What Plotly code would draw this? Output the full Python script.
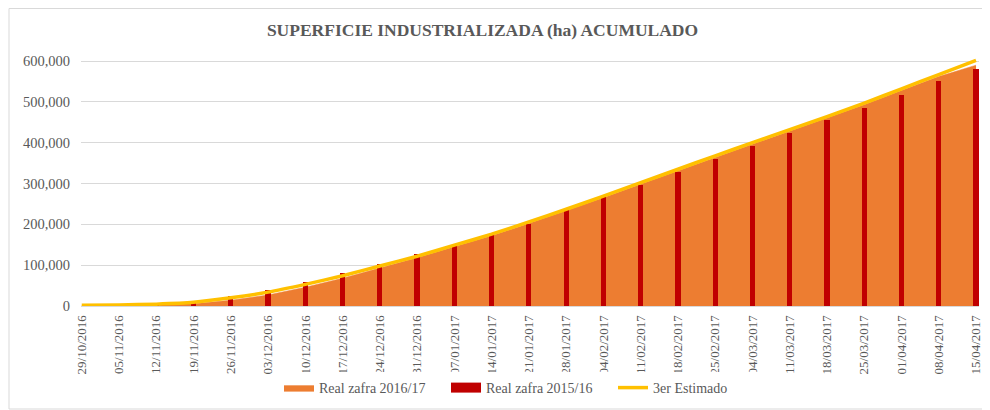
import plotly.graph_objects as go

categories = ["29/10/2016", "05/11/2016", "12/11/2016", "19/11/2016", "26/11/2016",
              "03/12/2016", "10/12/2016", "17/12/2016", "24/12/2016", "31/12/2016",
              "07/01/2017", "14/01/2017", "21/01/2017", "28/01/2017", "04/02/2017",
              "11/02/2017", "18/02/2017", "25/02/2017", "04/03/2017", "11/03/2017",
              "18/03/2017", "25/03/2017", "01/04/2017", "08/04/2017", "15/04/2017"]

real_2016_17 = [500, 1000, 2500, 5500, 14000, 27000, 46000, 68000, 93000, 118000,
                145000, 172000, 202000, 233000, 265000, 298000, 331000, 364000,
                396000, 428000, 460000, 493000, 528000, 562000, 590000]

real_2015_16 = [0, 1000, 5500, 9000, 24000, 39000, 59000, 81000, 104000, 127000,
                152000, 173000, 202000, 235000, 266000, 297000, 328000, 359000,
                392000, 423000, 455000, 485000, 516000, 550000, 581000]

estimado_3er = [2000, 2500, 4500, 9000, 20000, 34000, 53000, 74000, 98000, 122000,
                149000, 176000, 206000, 237000, 269000, 302000, 335000, 368000,
                400000, 432000, 464000, 497000, 532000, 567000, 602000]

y_ticks = [0, 100000, 200000, 300000, 400000, 500000, 600000]
y_tick_labels = ["0", "100,000", "200,000", "300,000", "400,000", "500,000", "600,000"]

xs = list(range(len(categories)))
FONT = "Liberation Serif, Times New Roman, serif"
GRAY = "#595959"
GRID = "#D9D9D9"
YR = [0, 610000]

# page body has an 8px margin: figure is placed at (8, 8)
OFF = 8
W, H = 990 - OFF, 410 - OFF
PL, PR, PT, PB = 81, 979, 57, 306   # plot area in window pixels
PW, PH = PR - PL, PB - PT

fig = go.Figure()
fig.add_trace(go.Scatter(
    x=xs, y=real_2016_17, name="Real zafra 2016/17", mode="lines",
    line=dict(color="#ED7D31", width=0.5), fill="tozeroy", fillcolor="#ED7D31",
    yaxis="y"))
fig.add_trace(go.Bar(
    x=xs, y=real_2015_16, name="Real zafra 2015/16", marker_color="#C00000",
    marker_line_width=0, width=0.14, yaxis="y2", showlegend=False,
    legendgroup="r1516"))
# legend swatch for the bar series (wide rectangle, as in the original)
fig.add_trace(go.Scatter(
    x=[None], y=[None], name="Real zafra 2015/16", mode="lines",
    line=dict(color="#C00000", width=10), legendgroup="r1516", yaxis="y2"))
fig.add_trace(go.Scatter(
    x=xs, y=estimado_3er, name="3er Estimado", mode="lines",
    line=dict(color="#FFC000", width=3.5, shape="spline", smoothing=0.5),
    yaxis="y3"))

fig.update_layout(
    width=W, height=H,
    margin=dict(l=PL - OFF, r=990 - PR, t=PT - OFF, b=410 - PB, autoexpand=False),
    paper_bgcolor="white", plot_bgcolor="white",
    font=dict(family=FONT, color=GRAY, size=12),
    title=dict(text="<b>SUPERFICIE INDUSTRIALIZADA (ha) ACUMULADO</b>",
               font=dict(family=FONT, size=17.5, color=GRAY),
               x=(482.5 - OFF) / W, xref="container", xanchor="center",
               y=1 - (30 - OFF) / H, yref="container", yanchor="middle"),
    showlegend=True,
    legend=dict(orientation="h", x=(284 - 5 - PL) / PW, xanchor="left",
                y=(PB - 388) / PH, yanchor="middle",
                font=dict(family=FONT, size=14, color=GRAY),
                traceorder="normal", itemwidth=30,
                entrywidth=122, entrywidthmode="pixels"),
    bargap=0,
    xaxis=dict(range=[-0.02, 24.08], tickmode="array", tickvals=xs, ticktext=categories,
               tickangle=-90, tickfont=dict(family=FONT, size=13, color=GRAY),
               showgrid=False, showline=True, linecolor=GRID, linewidth=1,
               ticks="", zeroline=False, ticklabelstandoff=3),
    yaxis=dict(range=YR, tickmode="array", tickvals=y_ticks, ticktext=y_tick_labels,
               tickfont=dict(family=FONT, size=14.5, color=GRAY),
               showgrid=True, gridcolor=GRID, gridwidth=1, zeroline=False,
               showline=False, ticklabelstandoff=10),
    yaxis2=dict(range=YR, overlaying="y", showgrid=False, showticklabels=False,
                zeroline=False, showline=False),
    yaxis3=dict(range=YR, overlaying="y", showgrid=False, showticklabels=False,
                zeroline=False, showline=False),
)

fig.add_shape(type="rect", xref="paper", yref="paper",
              x0=(9 - PL) / PW, x1=(985 - PL) / PW,
              y0=(PB - 409) / PH, y1=(PB - 8.5) / PH,
              line=dict(color=GRID, width=1), fillcolor="rgba(0,0,0,0)", layer="below")

fig.write_html("out.html")
